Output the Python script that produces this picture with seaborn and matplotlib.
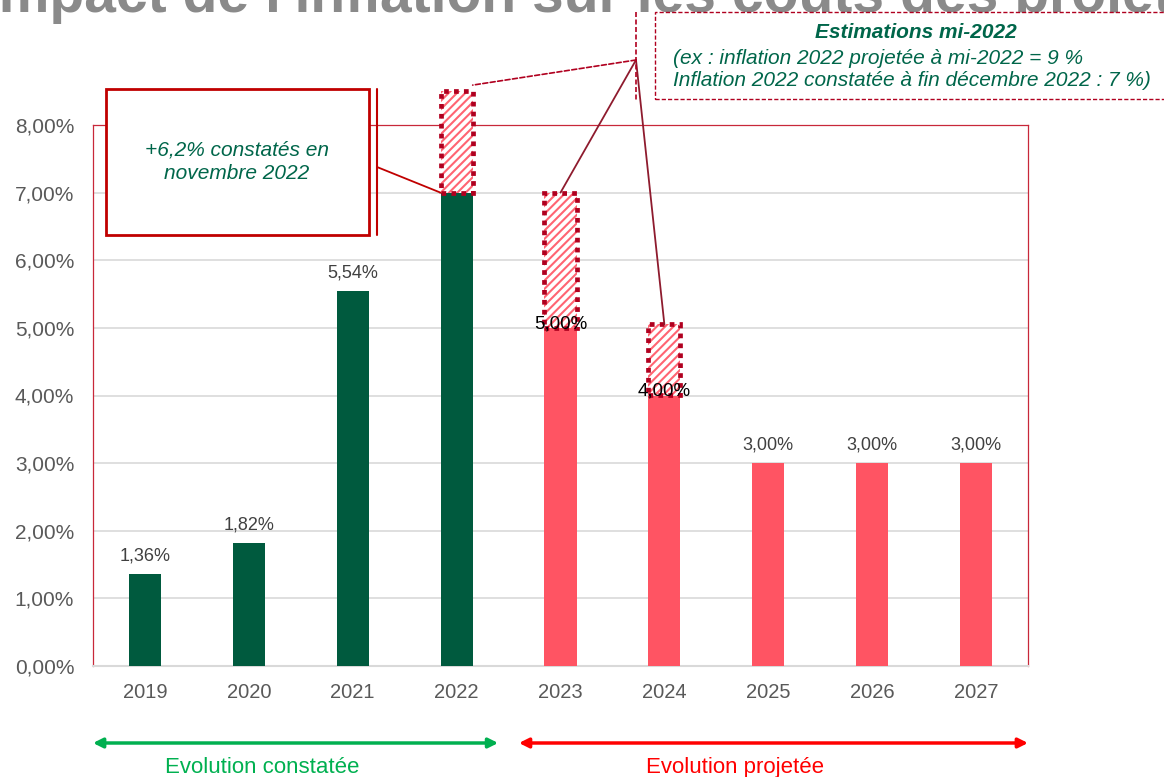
import matplotlib
matplotlib.use('Agg')
import matplotlib.pyplot as plt
import matplotlib.transforms as mtransforms
from matplotlib.patches import Rectangle
from matplotlib.lines import Line2D
from matplotlib.ticker import FuncFormatter, FixedLocator
import seaborn as sns
import pandas as pd

# ---------------- data ----------------
years = ['2019', '2020', '2021', '2022', '2023', '2024', '2025', '2026', '2027']
values = [1.36, 1.82, 5.54, 7.00, 5.00, 4.00, 3.00, 3.00, 3.00]
status = ['constatée', 'constatée', 'constatée', 'constatée',
          'projetée', 'projetée', 'projetée', 'projetée', 'projetée']
labelled_years = ['2019', '2020', '2021', '2023', '2024', '2025', '2026', '2027']
est_years = ['2022', '2023', '2024']
est_base = [7.00, 5.00, 4.00]
est_top = [8.50, 7.00, 5.05]
y_ticks = [0, 1, 2, 3, 4, 5, 6, 7, 8]

title = "Impact de l'inflation sur les coûts des projets"
note_left = "+6,2% constatés en\nnovembre 2022"
note_right_title = "Estimations mi-2022"
note_right_l1 = "(ex : inflation 2022 projetée à mi-2022 = 9 %"
note_right_l2 = "Inflation 2022 constatée à fin décembre 2022 : 7 %)"
period_labels = ['Evolution constatée', 'Evolution projetée']

# ---------------- style ----------------
GREEN = '#005A3E'
RED = '#FF5463'
DARKRED = '#B0001F'
LINK = '#8E1B2E'
TXTGREEN = '#00664A'
GRID = '#D9D9D9'
TICK = '#595959'

sns.set_theme(style='white')
plt.rcParams['font.family'] = ['Liberation Sans', 'DejaVu Sans']
plt.rcParams['hatch.linewidth'] = 1.5

W, H = 1164, 777
fig = plt.figure(figsize=(W / 100, H / 100), dpi=100)


def fp(x, y):
    return (x / W, 1 - y / H)


ax = fig.add_axes([93 / W, 1 - 666 / H, (1028 - 93) / W, (666 - 125) / H])

df = pd.DataFrame({'year': years, 'value': values, 'status': status})
BW = 0.31
sns.barplot(data=df, x='year', y='value', hue='status',
            palette={'constatée': GREEN, 'projetée': RED},
            order=years, width=BW, dodge=False, legend=False,
            saturation=1, ax=ax, zorder=3, linewidth=0)

ax.set_xlim(-0.5, len(years) - 0.5)
ax.set_ylim(0, 8)
ax.yaxis.set_major_locator(FixedLocator(y_ticks))
ax.yaxis.set_major_formatter(FuncFormatter(lambda v, p: f"{v:.2f}".replace('.', ',') + '%'))
ax.set_xlabel('')
ax.set_ylabel('')
ax.grid(axis='y', color=GRID, lw=1.2, zorder=0)
ax.set_axisbelow(True)
ax.tick_params(axis='x', length=0, labelsize=14.5, colors=TICK, pad=12)
ax.tick_params(axis='y', length=0, labelsize=15, colors=TICK, pad=13.5)
for s in ['left', 'top', 'right']:
    ax.spines[s].set_color('#C8283A')
    ax.spines[s].set_linewidth(0.9)
ax.spines['bottom'].set_color(GRID)
ax.spines['bottom'].set_linewidth(1.5)

# hatched estimate boxes
pos = [years.index(y) for y in est_years]
heights = [t - b for t, b in zip(est_top, est_base)]
ax.bar(pos, heights, bottom=est_base, width=BW, color='white',
       edgecolor='#FF6472', hatch='////', linewidth=0, zorder=4, clip_on=False)
ax.bar(pos, heights, bottom=est_base, width=BW, fill=False,
       edgecolor=DARKRED, linewidth=3.4, linestyle=(0, (1, 1.1)), zorder=5, clip_on=False)

# value labels
for y, v in zip(years, values):
    if y not in labelled_years:
        continue
    i = years.index(y)
    txt = f"{v:.2f}".replace('.', ',') + '%'
    if y in est_years:
        ax.annotate(txt, (i, v), xytext=(0, -3), textcoords='offset points',
                    ha='center', va='bottom', fontsize=13.5, color='black', zorder=6)
    else:
        ax.annotate(txt, (i, v), xytext=(0, 7), textcoords='offset points',
                    ha='center', va='bottom', fontsize=13, color='#404040', zorder=6)

# title (cut by top edge)
fig.text(*fp(-17, 12), title, ha='left', va='baseline', fontsize=41,
         fontweight='bold', color='#8A8A8A')

# left note box
fig.patches.append(Rectangle(fp(106, 235), (369 - 106) / W, (235 - 89) / H,
                             transform=fig.transFigure, facecolor='white',
                             edgecolor='#C00000', lw=2, zorder=10))
fig.text(*fp(237, 162), note_left, ha='center', va='center', fontsize=15,
         style='italic', color=TXTGREEN, linespacing=1.3, zorder=11)
fig.lines.append(Line2D([377 / W, 377 / W], [1 - 89 / H, 1 - 235 / H],
                        transform=fig.transFigure, color='#C00000', lw=1.5, zorder=10))
i22 = years.index('2022')
ax.annotate('', xy=(i22 - BW / 2, values[i22]), xycoords='data',
            xytext=fp(377, 167), textcoords='figure fraction',
            arrowprops=dict(arrowstyle='-', color='#C00000', lw=1.3,
                            shrinkA=0, shrinkB=0), annotation_clip=False, zorder=10)

# right note box
fig.patches.append(Rectangle(fp(655, 99), (1175 - 655) / W, (99 - 12) / H,
                             transform=fig.transFigure, facecolor='white',
                             edgecolor=DARKRED, lw=1, ls=(0, (3, 1.5)), zorder=10))
fig.text(*fp(916, 32), note_right_title, ha='center', va='center', fontsize=15,
         style='italic', fontweight='bold', color=TXTGREEN, zorder=11)
fig.text(*fp(673, 58), note_right_l1, ha='left', va='center', fontsize=15,
         style='italic', color=TXTGREEN, zorder=11)
fig.text(*fp(673, 81), note_right_l2, ha='left', va='center', fontsize=15,
         style='italic', color=TXTGREEN, zorder=11)
fig.lines.append(Line2D([636 / W, 636 / W], [1 - 12 / H, 1 - 100 / H],
                        transform=fig.transFigure, color=DARKRED, lw=1.2,
                        ls=(0, (3, 1.5)), zorder=10))

hub = fp(636, 60)
ax.annotate('', xy=(i22 + BW / 2, est_top[0] + 0.09), xycoords='data',
            xytext=hub, textcoords='figure fraction',
            arrowprops=dict(arrowstyle='-', color=DARKRED, lw=1.2, ls=(0, (3, 1.5)),
                            shrinkA=0, shrinkB=0), annotation_clip=False, zorder=10)
for y, t in zip(est_years[1:], est_top[1:]):
    i = years.index(y)
    ax.annotate('', xy=(i, t), xycoords='data',
                xytext=hub, textcoords='figure fraction',
                arrowprops=dict(arrowstyle='-', color=LINK, lw=1.3,
                                shrinkA=0, shrinkB=0), annotation_clip=False, zorder=10)

# period arrows
trans = mtransforms.blended_transform_factory(ax.transData, ax.transAxes)
ya = (666 - 743) / (666 - 125)
yt = (666 - 757) / (666 - 125)
split = years.index('2023') - 0.5
ax.annotate('', xy=(-0.5, ya), xycoords=trans, xytext=(split - 0.1, ya), textcoords=trans,
            arrowprops=dict(arrowstyle='<|-|>', color='#00B050', lw=2.5,
                            mutation_scale=14, shrinkA=0, shrinkB=0), annotation_clip=False)
ax.annotate('', xy=(split + 0.1, ya), xycoords=trans, xytext=(len(years) - 0.5, ya), textcoords=trans,
            arrowprops=dict(arrowstyle='<|-|>', color='#FF0000', lw=2.5,
                            mutation_scale=14, shrinkA=0, shrinkB=0), annotation_clip=False)
ax.text(1.13, yt, period_labels[0], transform=trans, ha='center', va='top',
        fontsize=16, color='#00B050', clip_on=False)
ax.text(5.68, yt, period_labels[1], transform=trans, ha='center', va='top',
        fontsize=16, color='#FF0000', clip_on=False)

fig.savefig('out.png', dpi=100)
